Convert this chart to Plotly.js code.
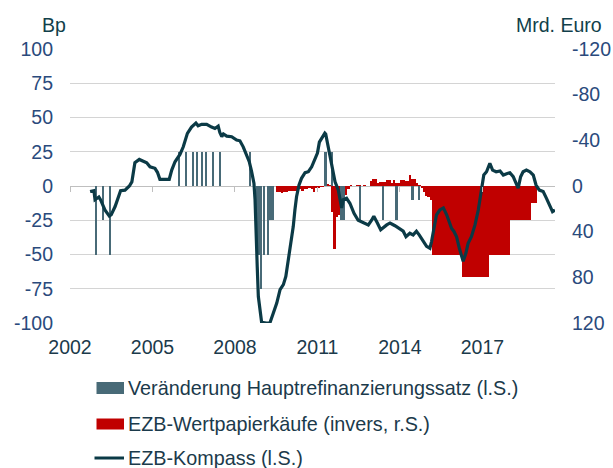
<!DOCTYPE html>
<html>
<head>
<meta charset="utf-8">
<script src="https://cdn.plot.ly/plotly-3.0.1.min.js"></script>
<style>html,body{margin:0;padding:0;background:#fff;}#chart{width:613px;height:468px;}</style>
</head>
<body>
<div id="chart"></div>
<script>
// ---------- DATA ----------
// Veränderung Hauptrefinanzierungssatz (Bp, left axis) – month of change (decimal year, mid-month)
var rateX = [2002.958, 2003.208, 2003.458, 2005.958, 2006.208, 2006.458, 2006.625, 2006.792, 2006.958,
             2007.208, 2007.458, 2008.542, 2008.792, 2008.875, 2008.958, 2009.042, 2009.208, 2009.292,
             2009.375, 2011.292, 2011.542, 2011.875, 2011.958, 2012.542, 2013.375, 2013.875, 2014.458, 2014.708];
var rateY = [-50, -25, -50, 25, 25, 25, 25, 25, 25,
             25, 25, 25, -50, -50, -75, -50, -50, -25,
             -25, 25, 25, -25, -25, -25, -25, -25, -10, -10];

// EZB-Wertpapierkäufe (Mrd. Euro, right axis, inverted) – monthly
var qeMonths = ["2009-07","2009-08","2009-09","2009-10","2009-11","2009-12",
  "2010-01","2010-02","2010-03","2010-04","2010-05","2010-06","2010-07","2010-08","2010-09","2010-10","2010-11","2010-12",
  "2011-01","2011-02","2011-03","2011-04","2011-05","2011-06","2011-07","2011-08","2011-09","2011-10","2011-11","2011-12",
  "2012-01","2012-02","2012-03","2012-04","2012-05","2012-06","2012-07","2012-08","2012-09","2012-10","2012-11","2012-12",
  "2013-01","2013-02","2013-03","2013-04","2013-05","2013-06","2013-07","2013-08","2013-09","2013-10","2013-11","2013-12",
  "2014-01","2014-02","2014-03","2014-04","2014-05","2014-06","2014-07","2014-08","2014-09","2014-10","2014-11","2014-12",
  "2015-01","2015-02","2015-03","2015-04","2015-05","2015-06","2015-07","2015-08","2015-09","2015-10","2015-11","2015-12",
  "2016-01","2016-02","2016-03","2016-04","2016-05","2016-06","2016-07","2016-08","2016-09","2016-10","2016-11","2016-12",
  "2017-01","2017-02","2017-03","2017-04","2017-05","2017-06","2017-07","2017-08","2017-09","2017-10","2017-11","2017-12",
  "2018-01","2018-02","2018-03","2018-04","2018-05","2018-06","2018-07","2018-08","2018-09","2018-10","2018-11","2018-12"];
var qeValues = [5.5, 5, 6, 5, 5.5, 4,
  4.5, 4, 4.5, 3.5, 3, 4, 2.5, 3, 2, 3, 5, 2,
  1.5, 1, 0.5, -1, -1.5, -1, 23, 55, 27, 25, 18, 14,
  8, 3, -0.8, 0, 0, -0.8, -0.8, 0, -0.8, 0, 0, -4.4,
  -5.8, -5.8, -3, -3.5, -3.5, -3.5, -5, -5, -3, -5.3, -3, -3,
  -5.3, -5.3, -4, -4, -9.3, -5.8, -5.8, -3, -0.8, 2, 5, 9,
  10, 12, 60, 60, 60, 60, 60, 60, 60, 60, 60, 60,
  60, 60, 60, 80, 80, 80, 80, 80, 80, 80, 80, 80,
  80, 80, 80, 60, 60, 60, 60, 60, 60, 60, 60, 60,
  30, 30, 30, 30, 30, 30, 30, 30, 30, 15, 15, 15];

// EZB-Kompass (Bp, left axis)
var compassX = [2002.73, 2002.87, 2002.91, 2003.05, 2003.11, 2003.21, 2003.27, 2003.43, 2003.5, 2003.64,
  2003.76, 2003.84, 2004.0, 2004.16, 2004.25, 2004.3, 2004.36, 2004.52, 2004.7, 2004.79,
  2004.91, 2005.09, 2005.18, 2005.27, 2005.45, 2005.61, 2005.7, 2005.82, 2006.0, 2006.12,
  2006.27, 2006.42, 2006.58, 2006.66, 2006.79, 2006.97, 2007.15, 2007.27, 2007.39, 2007.45,
  2007.52, 2007.58, 2007.7, 2007.88, 2008.06, 2008.18, 2008.3, 2008.42, 2008.52, 2008.6,
  2008.69, 2008.73, 2008.76, 2008.81, 2008.85, 2008.97, 2009.15, 2009.27, 2009.39, 2009.52,
  2009.64, 2009.76, 2009.85, 2009.94, 2010.02, 2010.12, 2010.18, 2010.24, 2010.33, 2010.42,
  2010.55, 2010.67, 2010.79, 2010.91, 2011.0, 2011.07, 2011.15, 2011.27, 2011.3, 2011.4,
  2011.52, 2011.64, 2011.76, 2011.82, 2011.88, 2011.94, 2012.06, 2012.18, 2012.33, 2012.48,
  2012.67, 2012.85, 2012.97, 2013.05, 2013.18, 2013.3, 2013.52, 2013.64, 2013.82, 2014.0,
  2014.12, 2014.22, 2014.36, 2014.48, 2014.6, 2014.7, 2014.85, 2014.97, 2015.09, 2015.15,
  2015.25, 2015.33, 2015.45, 2015.58, 2015.7, 2015.79, 2015.88, 2015.96, 2016.06, 2016.16,
  2016.24, 2016.3, 2016.4, 2016.48, 2016.6, 2016.73, 2016.85, 2016.97, 2017.05, 2017.15,
  2017.27, 2017.37, 2017.5, 2017.64, 2017.76, 2017.88, 2018.0, 2018.12, 2018.24, 2018.3,
  2018.39, 2018.48, 2018.6, 2018.73, 2018.85, 2018.95, 2019.07, 2019.21, 2019.33, 2019.45,
  2019.55, 2019.64];
var compassY = [-4, -3.4, -10, -8, -10, -14, -17.5, -22, -21, -15,
  -8.5, -3.4, -3, 0, 3, 11.6, 17, 19.4, 18, 17,
  14, 12.9, 10, 4.9, 4.9, 4.9, 11.6, 17.7, 23, 28.6,
  38.4, 43, 46, 44, 45, 45, 43, 42, 43.7, 39,
  36, 38, 36.4, 36, 33.5, 33, 28.6, 23, 17.7, 11,
  2, -10, -34, -59, -80.7, -99.6, -100, -100, -93, -85.5,
  -75.7, -72, -66, -54, -42, -29.6, -17.5, -7.8, 0.7, 5.6,
  9.7, 10.4, 14, 19.4, 24, 32, 34.7, 38.6, 38, 27.5,
  15, 3, -3, -10, -16, -10, -9, -12.6, -20, -25,
  -27, -28.4, -25, -22, -27, -32, -28.4, -27, -29, -31,
  -33, -37, -34.5, -35.7, -33, -35.7, -40.6, -44, -45.4, -40.6,
  -29.6, -21, -17.5, -16, -21, -27, -31, -33, -37, -45.4,
  -51.5, -55, -49, -41.8, -37, -28.4, -17.5, -3, 8, 10.4,
  16.5, 11.6, 10.4, 11, 8, 9, 9.7, 6.8, 0.7, -1.5,
  6.8, 10.4, 11.6, 10.4, 8, 0.7, -3, -4.1, -9, -13.8,
  -18.7, -17.5];

var xTickVals = [2002, 2005, 2008, 2011, 2014, 2017];
var xTickText = ["2002", "2005", "2008", "2011", "2014", "2017"];
var leftTicks = [-100, -75, -50, -25, 0, 25, 50, 75, 100];
var leftTickText = ["-100", "-75", "-50", "-25", "0", "25", "50", "75", "100"];
var rightTicks = [-120, -80, -40, 0, 40, 80, 120];
var rightTickText = ["-120", "-80", "-40", "0", "40", "80", "120"];

var names = ["Veränderung Hauptrefinanzierungssatz (l.S.)", "EZB-Wertpapierkäufe (invers, r.S.)", "EZB-Kompass (l.S.)"];

// ---------- STYLE ----------
var FONT = "Liberation Sans, Arial, sans-serif";
var cGray = "#486a77", cRed = "#c00000", cLine = "#0b3a46";
var cTickY = "#2a4a7c", cTickX = "#1b3a4b", cTitle = "#113f4a";

// month string -> decimal year at mid-month
function monthToX(s) { var p = s.split("-"); return +p[0] + (+p[1] - 0.5) / 12; }

var traces = [
  { type: "bar", name: names[1], x: qeMonths.map(monthToX), y: qeValues, xaxis: "x", yaxis: "y",
    width: 1 / 12, marker: { color: cRed, line: { width: 0 } }, showlegend: false, hoverinfo: "skip" },
  { type: "bar", name: names[0], x: rateX, y: rateY, xaxis: "x", yaxis: "y2",
    width: 0.075, marker: { color: cGray, line: { width: 0 } }, showlegend: false, hoverinfo: "skip" },
  { type: "scatter", mode: "lines", name: names[2], x: compassX, y: compassY, xaxis: "x", yaxis: "y2",
    line: { color: cLine, width: 3.2 }, showlegend: false, hoverinfo: "skip" },
  { type: "scatter", mode: "lines", x: [], y: [], xaxis: "x2", yaxis: "y2", showlegend: false, hoverinfo: "skip" }
];

var xRange = [2002, 2019.64];

var H = 468, T = 49, B = 145, L = 70, R = 58;
var PW = 613 - L - R, PH = H - T - B;
function px2paperX(px) { return (px - L) / PW; }
function px2paperY(py) { return (H - B - py) / PH; }

var legY = [388, 424, 458];
var shapes = [
  { type: "rect", xref: "paper", yref: "paper", x0: px2paperX(96.5), x1: px2paperX(124), y0: px2paperY(legY[0] - 6), y1: px2paperY(legY[0] + 6), fillcolor: cGray, line: { width: 0 } },
  { type: "rect", xref: "paper", yref: "paper", x0: px2paperX(96.5), x1: px2paperX(124), y0: px2paperY(legY[1] - 5.5), y1: px2paperY(legY[1] + 5.5), fillcolor: cRed, line: { width: 0 } },
  { type: "line", xref: "paper", yref: "paper", x0: px2paperX(94.5), x1: px2paperX(124), y0: px2paperY(legY[2]), y1: px2paperY(legY[2]), line: { color: cLine, width: 3 } }
];
var annotations = [
  { text: "Bp", xref: "paper", yref: "paper", x: px2paperX(54), y: px2paperY(25), xanchor: "center", yanchor: "middle", showarrow: false, font: { family: FONT, size: 19.5, color: cTitle } },
  { text: "Mrd. Euro", xref: "paper", yref: "paper", x: px2paperX(604), y: px2paperY(25), xanchor: "right", yanchor: "middle", showarrow: false, font: { family: FONT, size: 19.5, color: cTitle } }
];
for (var i = 0; i < 3; i++) {
  annotations.push({ text: names[i], xref: "paper", yref: "paper", x: px2paperX(126), y: px2paperY(legY[i]), xanchor: "left", yanchor: "middle", showarrow: false, font: { family: FONT, size: 19.8, color: cTickX } });
}

var layout = {
  width: 613, height: 468,
  margin: { l: L, r: R, t: T, b: B, pad: 0 },
  paper_bgcolor: "#ffffff", plot_bgcolor: "#ffffff",
  font: { family: FONT, size: 19.5, color: cTickX },
  barmode: "overlay", bargap: 0,
  showlegend: false,
  xaxis: { type: "linear", range: xRange, tickvals: xTickVals, ticktext: xTickText, ticks: "", showgrid: false, zeroline: false, showline: false,
           tickfont: { family: FONT, size: 19.5, color: cTickX }, ticklabelstandoff: 10, fixedrange: true },
  xaxis2: { type: "linear", overlaying: "x", anchor: "free", position: 0.5, range: xRange, tickvals: xTickVals, ticktext: xTickText,
            ticks: "outside", ticklen: 5, tickwidth: 1, tickcolor: "#bfbfbf", showticklabels: false, showgrid: false, zeroline: false, showline: false },
  yaxis: { side: "right", range: [120, -120], tickvals: rightTicks, ticktext: rightTickText, ticks: "", showgrid: false, zeroline: false, showline: false,
           tickfont: { family: FONT, size: 19.5, color: cTickY }, ticklabelstandoff: 16 },
  yaxis2: { side: "left", overlaying: "y", range: [-100, 100], tickvals: leftTicks, ticktext: leftTickText, ticks: "", showgrid: true, gridcolor: "#d4d4d4", gridwidth: 1,
            zeroline: true, zerolinecolor: "#bfbfbf", zerolinewidth: 1, showline: false,
            tickfont: { family: FONT, size: 19.5, color: cTickY }, ticklabelstandoff: 16 },
  shapes: shapes,
  annotations: annotations
};

Plotly.newPlot("chart", traces, layout, { displayModeBar: false, staticPlot: true });
</script>
</body>
</html>
